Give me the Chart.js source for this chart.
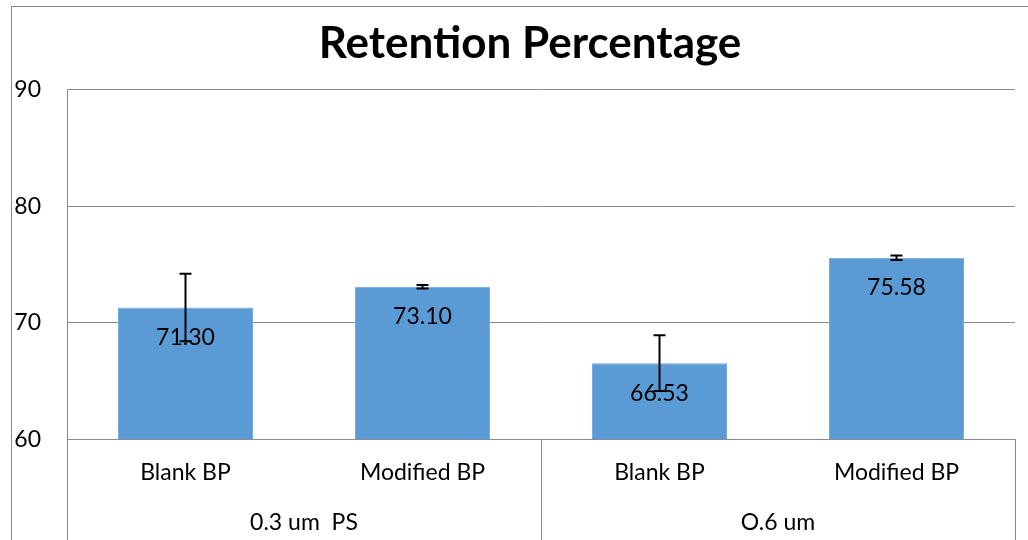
<!DOCTYPE html>
<html>
<head>
<meta charset="utf-8">
<title>Retention Percentage</title>
<script src="https://cdn.jsdelivr.net/npm/chart.js@4.4.1/dist/chart.umd.min.js"></script>
<style>
  html, body { margin: 0; padding: 0; background: #fff; overflow: hidden; width: 1028px; height: 540px; }
  #frame { position: absolute; left: 11px; top: 6px; width: 1036px; height: 560px; border: 1px solid #8a8a8a; background: #fff; }
  canvas { display: block; }
</style>
</head>
<body>
<div id="frame"><canvas id="chart" width="1036" height="560"></canvas></div>
<script>
const subLabels = ['Blank BP', 'Modified BP', 'Blank BP', 'Modified BP'];
const groupLabels = ['0.3 um  PS', 'O.6 um'];
const retention = [71.30, 73.10, 66.53, 75.58];
const errors = [2.9, 0.15, 2.4, 0.2];
const yTicks = [60, 70, 80, 90];

const gridColor = '#8a8a8a';
Chart.defaults.font.family = 'Lato, "Open Sans", sans-serif';
Chart.defaults.color = '#000';

// value labels inside the bar tops, then the error whiskers on top of them
const barExtras = {
  id: 'barExtras',
  afterDatasetsDraw(chart) {
    const {ctx, scales: {y}} = chart;
    const meta = chart.getDatasetMeta(0);
    ctx.save();
    ctx.font = '23px Lato, "Open Sans", sans-serif';
    ctx.fillStyle = '#000';
    ctx.textAlign = 'center';
    ctx.textBaseline = 'middle';
    meta.data.forEach((bar, i) => {
      ctx.fillText(retention[i].toFixed(2), bar.x, bar.y + 30);
    });
    ctx.strokeStyle = '#000';
    ctx.lineWidth = 2;
    meta.data.forEach((bar, i) => {
      const hi = y.getPixelForValue(retention[i] + errors[i]);
      const lo = y.getPixelForValue(retention[i] - errors[i]);
      ctx.beginPath();
      ctx.moveTo(bar.x, hi); ctx.lineTo(bar.x, lo);
      ctx.moveTo(bar.x - 6, hi); ctx.lineTo(bar.x + 6, hi);
      ctx.moveTo(bar.x - 6, lo); ctx.lineTo(bar.x + 6, lo);
      ctx.stroke();
    });
    ctx.restore();
  }
};

// group dividers under the plot area
const groupLines = {
  id: 'groupLines',
  afterDraw(chart) {
    const {ctx, chartArea, scales: {x}} = chart;
    const mid = (x.getPixelForValue(1) + x.getPixelForValue(2)) / 2;
    ctx.save();
    ctx.strokeStyle = gridColor;
    ctx.lineWidth = 1;
    ctx.beginPath();
    [x.left, mid, x.right].forEach(px => {
      const sx = Math.round(px) + 0.5;
      ctx.moveTo(sx, chartArea.bottom);
      ctx.lineTo(sx, chart.height);
    });
    ctx.stroke();
    ctx.restore();
  }
};

new Chart(document.getElementById('chart'), {
  type: 'bar',
  data: {
    labels: subLabels,
    datasets: [{
      data: retention,
      backgroundColor: '#5b9bd5',
      borderColor: '#6fa8dc',
      borderWidth: 1,
      barPercentage: 0.57,
      categoryPercentage: 1
    }]
  },
  options: {
    responsive: false,
    animation: false,
    layout: {padding: {left: 0, right: 0, top: 0, bottom: 30}},
    scales: {
      y: {
        min: yTicks[0],
        max: yTicks[yTicks.length - 1],
        afterFit: s => { s.width = 55; },
        afterBuildTicks: s => { s.ticks = yTicks.map(v => ({value: v})); },
        ticks: {padding: 26, font: {size: 23}},
        grid: {color: gridColor, drawTicks: false},
        border: {display: true, color: gridColor}
      },
      // empty right margin so the title stays centred on the whole frame
      yRight: {
        type: 'linear',
        position: 'right',
        afterFit: s => { s.width = 33; },
        ticks: {display: false},
        grid: {display: false, drawTicks: false},
        border: {display: false}
      },
      x: {
        afterFit: s => { s.height = 47.6; },
        ticks: {padding: 20, font: {size: 23}, maxRotation: 0},
        grid: {display: false, drawTicks: false},
        border: {display: false}
      },
      x2: {
        type: 'category',
        position: 'bottom',
        labels: groupLabels,
        offset: true,
        afterFit: s => { s.height = 50.2; },
        ticks: {padding: 22, font: {size: 23}, maxRotation: 0},
        grid: {display: false, drawTicks: false},
        border: {display: false}
      }
    },
    plugins: {
      legend: {display: false},
      tooltip: {enabled: false},
      title: {
        display: true,
        text: 'Retention Percentage',
        color: '#000',
        font: {size: 44, weight: 'bold'},
        padding: {top: 10, bottom: 20}
      }
    }
  },
  plugins: [barExtras, groupLines]
});
</script>
</body>
</html>
